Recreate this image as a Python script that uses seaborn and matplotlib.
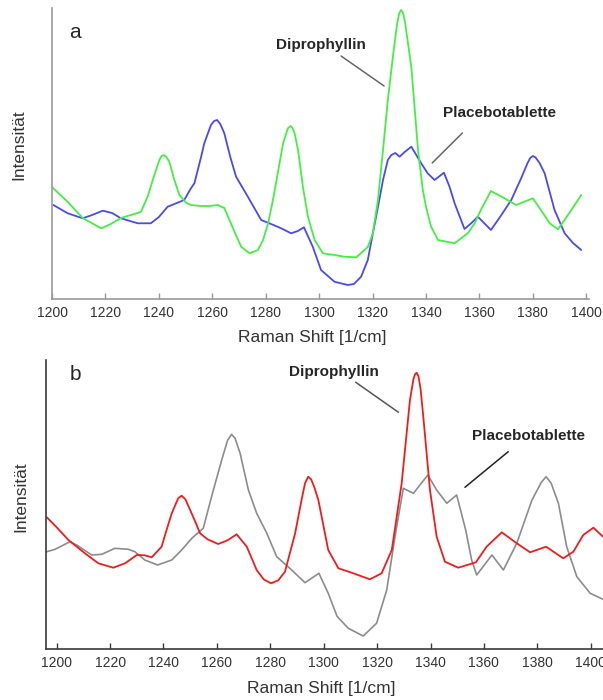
import numpy as np
import pandas as pd
import matplotlib
matplotlib.use('Agg')
import matplotlib.pyplot as plt
import seaborn as sns

# panel a: Raman shift [1/cm] and intensity (arbitrary units)
dipro_a_x = [1200, 1205.9, 1211.5, 1218.4, 1222, 1225.8, 1232, 1233.3, 1235.8, 1238.3,
             1240.2, 1241, 1241.8, 1242.7, 1243.9, 1245.8, 1247.7, 1250.2, 1252, 1255.8,
             1259, 1262, 1264.5, 1268.3, 1270.8, 1273.9, 1277.1, 1279, 1280.9, 1282.7,
             1284.6, 1286.5, 1288.3, 1289.3, 1290, 1290.8, 1292.1, 1293.9, 1295.8, 1298.3,
             1301.4, 1305.7, 1309.4, 1313.9, 1318.2, 1320.1, 1322, 1323.9, 1325.7, 1327.6,
             1329.2, 1330, 1330.7, 1331.4, 1332.2, 1334.5, 1335.7, 1337, 1338.8, 1340,
             1341.9, 1344.5, 1350.7, 1355.7, 1358.2, 1360.7, 1364.3, 1369.4, 1373.7, 1380,
             1383, 1386.3, 1389.4, 1394.4, 1398.1]
dipro_a_y = [112, 97, 81, 70.7, 75, 81, 86, 87.3, 102.3, 124,
             139, 143, 144, 142.5, 137.3, 119, 104, 96.3, 94, 93,
             93, 94, 91, 67.3, 52.3, 45.7, 49, 59, 75.7, 99,
             127.3, 155.7, 170.7, 173, 171, 165.7, 149, 112.3, 82.3, 59,
             45.7, 44, 42.3, 41.7, 52, 65.7, 99, 149, 199, 242.3,
             275.7, 286, 289, 286, 275.7, 232, 192.3, 149, 109, 92,
             72.3, 59, 55.7, 66, 75.7, 90, 108, 100.7, 94, 100.7,
             89, 75.7, 69.7, 89, 104]

placebo_a_x = [1200.5, 1205.9, 1211.5, 1215, 1219, 1222.5, 1225.8, 1232.1, 1237, 1240,
               1243.3, 1247, 1249.5, 1252, 1253.3, 1255.8, 1257, 1259.5, 1260.7, 1261.8,
               1263, 1264.5, 1266.7, 1268.9, 1273.3, 1278.3, 1282, 1285.8, 1289.5, 1292,
               1294.3, 1297.6, 1300.7, 1305.7, 1310.7, 1313, 1315.7, 1318.2, 1320.1, 1322,
               1323.9, 1325.7, 1327, 1328.5, 1330.1, 1332, 1334.5, 1338.2, 1340.6, 1343.2,
               1346.7, 1348.8, 1350.7, 1354.4, 1357, 1359.4, 1364.3, 1368.2, 1371.9, 1375.6,
               1378, 1379, 1380, 1381, 1382.5, 1384.4, 1388.1, 1391.9, 1395, 1398.1]
placebo_a_y = [94, 85.7, 80.7, 84, 88.3, 86, 80.7, 75.7, 75.7, 82,
               92.3, 96.3, 99, 110.7, 115.7, 142, 155.7, 174, 178, 179,
               175, 165.7, 142.3, 122.3, 102.3, 79, 75, 70.7, 65.7, 68,
               71.7, 52.3, 29, 17.3, 14, 15, 22.3, 39, 65.7, 92,
               119, 139, 144, 146, 142.3, 147, 152.3, 135.7, 125.7, 119,
               126.3, 112.3, 95.7, 70, 76, 82.3, 69, 84, 99, 120.7,
               136, 141, 143, 141.5, 136, 125.7, 89, 65.7, 56, 49]

# panel b
dipro_b_x = [1196.3, 1200, 1204.4, 1210.6, 1215.6, 1221.2, 1225.6, 1230, 1233, 1235.6,
             1239.3, 1241, 1243.1, 1245.5, 1246.8, 1248.2, 1250.2, 1252, 1253.7, 1256.5,
             1260.5, 1264, 1267.4, 1271.2, 1274.9, 1277.5, 1280.3, 1283, 1285.5, 1289.3,
             1291.7, 1293, 1294.2, 1295.3, 1296.5, 1298, 1301.7, 1305.5, 1310.5, 1317.3,
             1321.7, 1325.5, 1329.2, 1332.3, 1333.6, 1334.2, 1334.8, 1335.5, 1336.3, 1337.3,
             1339.8, 1342.3, 1345.4, 1350.4, 1357, 1361, 1366.7, 1372.3, 1377.3, 1383.3,
             1389.7, 1393.5, 1397.2, 1401, 1404.6]
dipro_b_y = [132, 122, 109.3, 96, 86, 81.6, 86, 94.3, 94, 92,
             102.6, 118, 136, 151, 153.6, 150, 138, 127, 116, 110,
             105.3, 109, 115, 102.6, 79.3, 70, 66, 69, 77.6, 116,
             149.3, 166, 172.6, 170, 162, 149.3, 99.3, 81, 76.6, 70,
             76, 99.3, 166, 249.3, 270, 275, 276.6, 273, 260, 232.6,
             159.3, 112.6, 87.6, 81.6, 87, 102.6, 117, 106, 97, 102.6,
             91, 97.6, 114.3, 121.6, 112.6]

placebo_b_x = [1196.3, 1199.4, 1205, 1208.1, 1213.1, 1216.9, 1221.8, 1226.8, 1229.3, 1233,
               1237.8, 1243.1, 1246.8, 1250.6, 1254.9, 1258, 1261.8, 1264, 1265.5, 1266.8,
               1268.7, 1271.8, 1274.9, 1278.7, 1282.4, 1288, 1293, 1296, 1298.2, 1301.7,
               1305, 1309.2, 1314.8, 1319.8, 1323.6, 1326.7, 1329.8, 1333.6, 1339, 1342.3,
               1346.1, 1349.8, 1353.2, 1355.4, 1357.3, 1363, 1367.3, 1372.3, 1378, 1381.5,
               1383.3, 1385.2, 1387.9, 1391, 1394.8, 1399.8, 1404.6]
placebo_b_y = [97.6, 100, 107.6, 103.3, 94.3, 95, 101, 100, 97.6, 89.3,
               84.3, 89.3, 99.3, 111, 121, 152.6, 189.3, 209, 215, 211,
               196, 159.3, 136, 116, 92.6, 79.3, 66.6, 72, 76, 56,
               33, 21, 13.3, 26, 59.3, 112.6, 161, 156, 174.3, 159.3,
               146, 154.3, 119, 89.3, 74.3, 94.3, 79.3, 106, 149.3, 167,
               172.6, 166, 146, 102.6, 72.6, 56, 50]

ticks = [1200, 1220, 1240, 1260, 1280, 1300, 1320, 1340, 1360, 1380, 1400]

sns.set_style('white')
plt.rcParams['font.family'] = ['Liberation Sans', 'DejaVu Sans']

W, H = 603, 700
fig = plt.figure(figsize=(W / 100, H / 100), dpi=100)


def make_axes(left, right, bottom, top):
    return fig.add_axes([left / W, 1 - bottom / H, (right - left) / W, (bottom - top) / H])


def style_axes(ax, spine_col):
    for s in ['top', 'right']:
        ax.spines[s].set_visible(False)
    for s in ['left', 'bottom']:
        ax.spines[s].set_color(spine_col)
        ax.spines[s].set_linewidth(1.2)
    ax.set_xticks(ticks)
    ax.set_xticklabels([str(t) for t in ticks])
    ax.set_yticks([])
    ax.tick_params(axis='x', direction='in', length=4, width=1, color=spine_col,
                   labelsize=10, labelcolor='#333333', pad=5, bottom=True)
    ax.set_ylabel('Intensität', fontsize=12.5, color='#333333')
    ax.set_xlabel('Raman Shift [1/cm]', fontsize=12.5, color='#333333')
    ax.xaxis.label.set_va('center')
    ax.yaxis.label.set_va('center')


def add_label(ax, text, txy, start, end, line_col):
    ax.text(txy[0], txy[1], text, fontsize=11, fontweight='bold', ha='center', va='center')
    ax.annotate('', xy=end, xytext=start,
                arrowprops=dict(arrowstyle='-', color=line_col, lw=1.1, shrinkA=0, shrinkB=0))


line_kw = dict(solid_joinstyle='round', solid_capstyle='round')

# panel a
ax_a = make_axes(52, 589, 299, 8)
df_a1 = pd.DataFrame({'shift': dipro_a_x, 'intens': dipro_a_y})
df_a2 = pd.DataFrame({'shift': placebo_a_x, 'intens': placebo_a_y})
sns.lineplot(data=df_a2, x='shift', y='intens', ax=ax_a, color='#4a4af0', lw=1.3, **line_kw)
sns.lineplot(data=df_a1, x='shift', y='intens', ax=ax_a, color='#44ee44', lw=1.3, **line_kw)
ax_a.set_xlim(1200, 1401)
ax_a.set_ylim(0, 291)
style_axes(ax_a, '#9a9a9a')
ax_a.xaxis.set_label_coords(0.485, -0.134)
ax_a.yaxis.set_label_coords(-0.0615, 0.529)
ax_a.text(1208.6, 267, 'a', fontsize=15, ha='center', va='center')
add_label(ax_a, 'Diprophyllin', (1300.7, 254), (1308.2, 243), (1324.3, 213), '#666666')
add_label(ax_a, 'Placebotablette', (1367.4, 186), (1353.6, 166), (1342.3, 136), '#666666')

# panel b
ax_b = make_axes(46, 603, 649.3, 360)
df_b1 = pd.DataFrame({'shift': dipro_b_x, 'intens': dipro_b_y})
df_b2 = pd.DataFrame({'shift': placebo_b_x, 'intens': placebo_b_y})
sns.lineplot(data=df_b2, x='shift', y='intens', ax=ax_b, color='#8c8c8c', lw=1.2, **line_kw)
sns.lineplot(data=df_b1, x='shift', y='intens', ax=ax_b, color='#f01c1c', lw=1.3, **line_kw)
ax_b.set_xlim(1196, 1404.6)
ax_b.set_ylim(0, 289.3)
style_axes(ax_b, '#3a3a3a')
ax_b.xaxis.set_label_coords(0.4946, -0.137)
ax_b.yaxis.set_label_coords(-0.0449, 0.526)
ax_b.text(1206.9, 274.3, 'b', fontsize=15, ha='center', va='center')
add_label(ax_b, 'Diprophyllin', (1303.9, 277.6), (1312, 267), (1328, 237), '#555555')
add_label(ax_b, 'Placebotablette', (1376.7, 213.3), (1369.1, 197.6), (1352.9, 162), '#222222')

plt.savefig('out.png', dpi=100)
